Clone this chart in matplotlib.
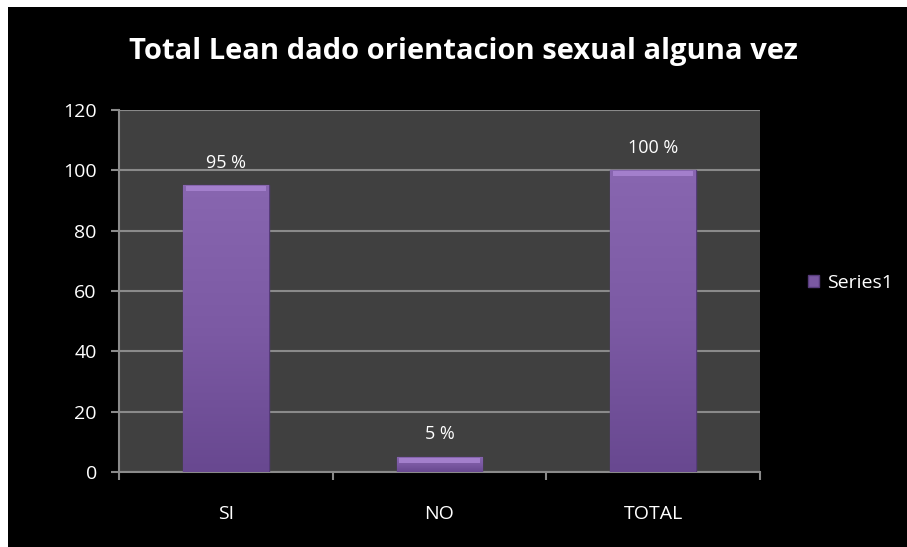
import matplotlib.pyplot as plt
import numpy as np

categories = ['SI', 'NO', 'TOTAL']
values = [95, 5, 100]
labels = ['95 %', '5 %', '100 %']
series_name = 'Series1'

plt.rcParams['font.family'] = ['Open Sans', 'DejaVu Sans']

fig = plt.figure(figsize=(9.07, 5.47), dpi=100, facecolor='black')
# borde blanco arriba e izquierda
fig.patches.append(plt.Rectangle((0, 0), 1, 1, transform=fig.transFigure,
                                 facecolor='white', edgecolor='none', zorder=-10))
fig.patches.append(plt.Rectangle((8 / 907, -0.01), 1.02, 1.01 - 7 / 547,
                                 transform=fig.transFigure,
                                 facecolor='black', edgecolor='none', zorder=-9))

ax = fig.add_axes([119 / 907, 75 / 547, 641 / 907, 362 / 547])
ax.set_facecolor('#404040')

x = np.arange(len(categories))
bars = ax.bar(x, values, width=0.4, color='#7a58a2', edgecolor='#563b7a',
              linewidth=1, zorder=3, label=series_name)

# degradado vertical dentro de cada barra
grad = np.linspace(0, 1, 256).reshape(-1, 1)
cmap = plt.matplotlib.colors.LinearSegmentedColormap.from_list(
    'morado', ['#684890', '#7c5aa4', '#8866b0'])
for b in bars:
    x0, w, h = b.get_x(), b.get_width(), b.get_height()
    im = ax.imshow(grad, cmap=cmap, aspect='auto', origin='lower',
                   extent=(x0, x0 + w, 0, h), zorder=3.5)
    im.set_clip_path(b)
    # bisel claro arriba
    ax.bar(x0 + w / 2, 1.6, width=w * 0.94, bottom=h - 1.9,
           color='#a37fcc', linewidth=0, zorder=4)

for xi, v, t in zip(x, values, labels):
    ax.text(xi, v + 4.5, t, ha='center', va='bottom', color='white', fontsize=13)

ax.set_xlim(-0.5, 2.5)
ax.set_ylim(0, 120)
ax.set_yticks(range(0, 121, 20))
ax.yaxis.grid(True, color='#8a8a8a', linewidth=1.5, zorder=1)
ax.set_axisbelow(True)

ax.set_xticks(x)
ax.set_xticklabels(categories)
ax.set_xticks([-0.5, 0.5, 1.5, 2.5], minor=True)
ax.tick_params(axis='x', which='major', length=0, pad=24, colors='white', labelsize=14)
ax.tick_params(axis='x', which='minor', length=6, color='#8a8a8a', width=1.5)
ax.tick_params(axis='y', length=6, color='#8a8a8a', width=1.5, colors='white',
               labelsize=14, pad=10)
ax.tick_params(axis='y', color='#8a8a8a')

for s in ['top', 'right']:
    ax.spines[s].set_visible(False)
for s in ['left', 'bottom']:
    ax.spines[s].set_color('#8a8a8a')
    ax.spines[s].set_linewidth(1.5)

fig.text(463 / 907, 1 - 52 / 547, 'Total Lean dado orientacion sexual alguna vez',
         ha='center', va='center', color='white', fontsize=21, fontweight='bold')

leg = fig.legend(handles=[bars], labels=[series_name], loc='center left',
                 bbox_to_anchor=(790 / 907, 1 - 283 / 547), frameon=False,
                 fontsize=14, handlelength=0.6, handleheight=0.6, handletextpad=0.4,
                 labelcolor='white')

plt.savefig('out.png', dpi=100, facecolor=fig.get_facecolor())
